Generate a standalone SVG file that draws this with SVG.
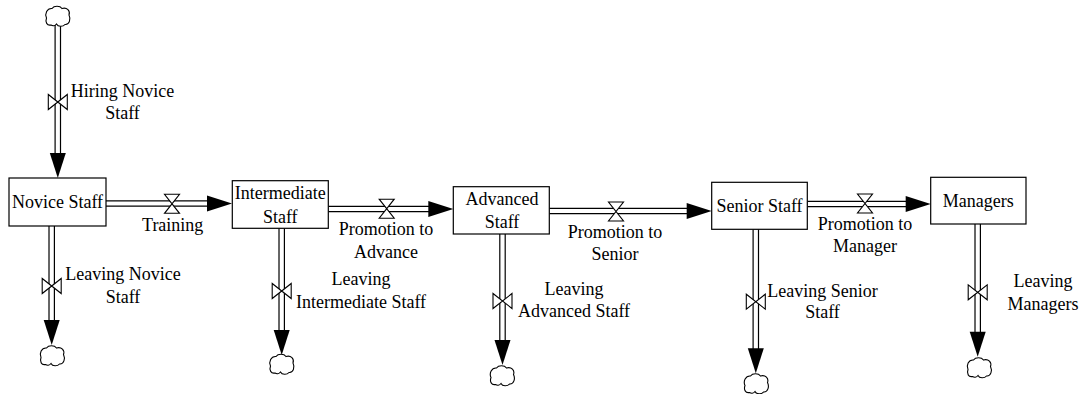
<svg xmlns="http://www.w3.org/2000/svg" xmlns:xlink="http://www.w3.org/1999/xlink" width="1083" height="394" viewBox="0 0 1083 394">
<style>
.stock{fill:#fff;stroke:#000;stroke-width:1.2}
.t{font-family:"Liberation Serif","Times New Roman",serif;font-size:18px;fill:#000;text-anchor:middle}
.po{stroke:#000;stroke-width:6.6;fill:none}
.pi{stroke:#fff;stroke-width:4.2;fill:none}
.ah{fill:#000;stroke:none}
.valve{fill:#fff;stroke:#000;stroke-width:1.1;stroke-linejoin:miter}
.cloud{fill:#fff;stroke:#000;stroke-width:1.1}
</style>
<defs>
<path id="vh" d="M-7.5,-9.5 L7.5,-9.5 L-7.5,9.5 L7.5,9.5 Z"/>
<path id="vv" d="M-9.5,-7.5 L-9.5,7.5 L9.5,-7.5 L9.5,7.5 Z"/>
<path id="ad" d="M0,0 L-8,-25 L8,-25 Z"/>
<path id="ar" d="M0,0 L-25,-8 L-25,8 Z"/>
<path id="cl" d="M-7,9 C-11,10 -13,6 -11.5,2 C-13.5,-2 -11,-8 -6,-7.5 C-4,-10.5 2,-10.5 4,-7.5 C9,-9 12.5,-5 11,-1 C13,3 11.5,9 7,8.5 C5,11 0,11 -1.5,8 C-3,10 -5.5,10 -7,9 Z"/>
</defs>
<rect width="1083" height="394" fill="#fff"/>

<g id="connectors">
  <!-- Hiring -->
  <line class="po" x1="57.8" y1="25" x2="57.8" y2="160"/><line class="pi" x1="57.8" y1="25" x2="57.8" y2="160"/>
  <use href="#ad" class="ah" x="57.8" y="178"/>
  <!-- Training -->
  <line class="po" x1="106" y1="203.5" x2="212" y2="203.5"/><line class="pi" x1="106" y1="203.5" x2="212" y2="203.5"/>
  <use href="#ar" class="ah" x="232" y="203.5"/>
  <!-- Leaving Novice -->
  <line class="po" x1="51.7" y1="226" x2="51.7" y2="327"/><line class="pi" x1="51.7" y1="226" x2="51.7" y2="327"/>
  <use href="#ad" class="ah" x="51.7" y="345"/>
  <!-- Promotion to Advance -->
  <line class="po" x1="328.3" y1="209" x2="434" y2="209"/><line class="pi" x1="328.3" y1="209" x2="434" y2="209"/>
  <use href="#ar" class="ah" x="453.3" y="209"/>
  <!-- Leaving Intermediate -->
  <line class="po" x1="281.7" y1="228.3" x2="281.7" y2="337"/><line class="pi" x1="281.7" y1="228.3" x2="281.7" y2="337"/>
  <use href="#ad" class="ah" x="281.7" y="355"/>
  <!-- Promotion to Senior -->
  <line class="po" x1="549.3" y1="211" x2="692" y2="211"/><line class="pi" x1="549.3" y1="211" x2="692" y2="211"/>
  <use href="#ar" class="ah" x="711.7" y="211"/>
  <!-- Leaving Advanced -->
  <line class="po" x1="502.5" y1="234" x2="502.5" y2="347"/><line class="pi" x1="502.5" y1="234" x2="502.5" y2="347"/>
  <use href="#ad" class="ah" x="502.5" y="365"/>
  <!-- Promotion to Manager -->
  <line class="po" x1="807.3" y1="204" x2="912" y2="204"/><line class="pi" x1="807.3" y1="204" x2="912" y2="204"/>
  <use href="#ar" class="ah" x="930.7" y="204"/>
  <!-- Leaving Senior -->
  <line class="po" x1="755.8" y1="229.3" x2="755.8" y2="355"/><line class="pi" x1="755.8" y1="229.3" x2="755.8" y2="355"/>
  <use href="#ad" class="ah" x="755.8" y="373.3"/>
  <!-- Leaving Managers -->
  <line class="po" x1="977.7" y1="224" x2="977.7" y2="338"/><line class="pi" x1="977.7" y1="224" x2="977.7" y2="338"/>
  <use href="#ad" class="ah" x="977.7" y="356.7"/>
</g>

<g id="cloud-hiring-source"><use href="#cl" class="cloud" x="58" y="16"/></g>
<g id="cloud-novice-sink"><use href="#cl" class="cloud" x="52.5" y="355.5"/></g>
<g id="cloud-intermediate-sink"><use href="#cl" class="cloud" x="282" y="364"/></g>
<g id="cloud-advanced-sink"><use href="#cl" class="cloud" x="502.5" y="375.5"/></g>
<g id="cloud-senior-sink"><use href="#cl" class="cloud" x="756.5" y="383.5"/></g>
<g id="cloud-managers-sink"><use href="#cl" class="cloud" x="979.5" y="367.5"/></g>

<g id="novice-staff">
  <rect class="stock" x="9" y="178" width="97" height="48"/>
  <text class="t" x="57.5" y="208">Novice Staff</text>
</g>
<g id="intermediate-staff">
  <rect class="stock" x="232.3" y="180.7" width="96" height="47.6"/>
  <text class="t" x="280.3" y="199.3">Intermediate</text>
  <text class="t" x="280.3" y="222.7">Staff</text>
</g>
<g id="advanced-staff">
  <rect class="stock" x="453.3" y="186.7" width="96" height="47.3"/>
  <text class="t" x="502" y="205">Advanced</text>
  <text class="t" x="502" y="228.3">Staff</text>
</g>
<g id="senior-staff">
  <rect class="stock" x="711.7" y="182.3" width="95.6" height="47"/>
  <text class="t" x="759.5" y="211.7">Senior Staff</text>
</g>
<g id="managers">
  <rect class="stock" x="930.7" y="177.3" width="95.3" height="46.7"/>
  <text class="t" x="978.3" y="206.7">Managers</text>
</g>

<g id="flow-hiring-novice-staff">
  <use href="#vv" class="valve" x="57.8" y="102"/>
  <text class="t" x="122.5" y="97">Hiring Novice</text>
  <text class="t" x="122.5" y="119">Staff</text>
</g>
<g id="flow-training">
  <use href="#vh" class="valve" x="172" y="203.8"/>
  <text class="t" x="172.7" y="231">Training</text>
</g>
<g id="flow-leaving-novice-staff">
  <use href="#vv" class="valve" x="51.7" y="286"/>
  <text class="t" x="123" y="280">Leaving Novice</text>
  <text class="t" x="123" y="302.7">Staff</text>
</g>
<g id="flow-promotion-to-advance">
  <use href="#vh" class="valve" x="386.7" y="208.7"/>
  <text class="t" x="386" y="235">Promotion to</text>
  <text class="t" x="386" y="257.7">Advance</text>
</g>
<g id="flow-leaving-intermediate-staff">
  <use href="#vv" class="valve" x="281.7" y="291"/>
  <text class="t" x="361" y="285">Leaving</text>
  <text class="t" x="361" y="307.7">Intermediate Staff</text>
</g>
<g id="flow-promotion-to-senior">
  <use href="#vh" class="valve" x="616" y="211.5"/>
  <text class="t" x="615" y="238.3">Promotion to</text>
  <text class="t" x="615" y="260">Senior</text>
</g>
<g id="flow-leaving-advanced-staff">
  <use href="#vv" class="valve" x="502.5" y="301"/>
  <text class="t" x="574" y="295">Leaving</text>
  <text class="t" x="574" y="316.7">Advanced Staff</text>
</g>
<g id="flow-promotion-to-manager">
  <use href="#vh" class="valve" x="865" y="203.5"/>
  <text class="t" x="865" y="230">Promotion to</text>
  <text class="t" x="865" y="252.3">Manager</text>
</g>
<g id="flow-leaving-senior-staff">
  <use href="#vv" class="valve" x="755.8" y="301.7"/>
  <text class="t" x="822.5" y="296.7">Leaving Senior</text>
  <text class="t" x="822.5" y="318.3">Staff</text>
</g>
<g id="flow-leaving-managers">
  <use href="#vv" class="valve" x="977.7" y="292.3"/>
  <text class="t" x="1043" y="286.7">Leaving</text>
  <text class="t" x="1043" y="310">Managers</text>
</g>
</svg>
